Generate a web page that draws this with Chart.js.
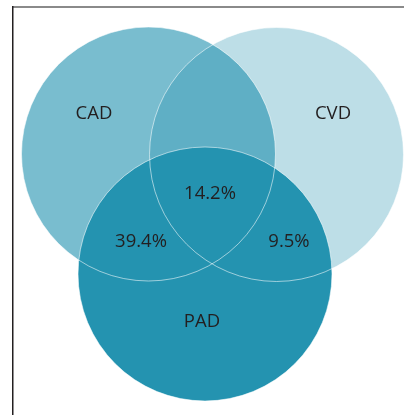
<!DOCTYPE html>
<html>
<head>
<meta charset="utf-8">
<script src="https://cdn.jsdelivr.net/npm/chart.js@4/dist/chart.umd.min.js"></script>
<style>
  html, body { margin: 0; padding: 0; background: #fff; }
  #wrap { width: 404px; height: 415px; }
</style>
</head>
<body>
<div id="wrap"><canvas id="venn" width="404" height="415"></canvas></div>
<script>
// sets of the venn, centre in plot units (1 unit = 1 px), radius in px
var setNames = ['CAD', 'CVD', 'PAD']
var setX = [135.5, 263.5, 192]
var setY = [147, 147.5, 267]
var setR = [127, 127, 127]
var setColors = ['rgba(36,147,176,0.61)', 'rgba(36,147,176,0.30)', 'rgba(36,147,176,1)']
var setLabelX = [81, 320, 189]
var setLabelY = [107, 107, 315]

// overlap percentages
var overlapLabels = ['14.2%', '39.4%', '9.5%']
var overlapX = [197, 128, 276]
var overlapY = [187, 235, 235]

var datasets = []
// fills: CAD, CVD, PAD (PAD on top)
setNames.forEach((n, i) => {
    datasets.push({
        label: n,
        data: [{x: setX[i], y: setY[i], r: setR[i]}],
        backgroundColor: setColors[i],
        borderWidth: 0,
        order: 3 - i,
        clip: false
    })
})
// thin outlines drawn over everything
datasets.push({
    label: 'outline',
    data: setNames.map((n, i) => ({x: setX[i], y: setY[i], r: setR[i]})),
    backgroundColor: 'rgba(0,0,0,0)',
    borderColor: 'rgba(255,255,255,0.55)',
    borderWidth: 1,
    order: 0,
    clip: false
})

var vennText = {
    id: 'vennText',
    afterDatasetsDraw(chart) {
        let ctx = chart.ctx, xs = chart.scales.x, ys = chart.scales.y
        ctx.save()
        ctx.font = '18.5px "Open Sans", sans-serif'
        ctx.fillStyle = '#231f20'
        ctx.textAlign = 'center'
        ctx.textBaseline = 'middle'
        setNames.forEach((n, i) => ctx.fillText(n, xs.getPixelForValue(setLabelX[i]), ys.getPixelForValue(setLabelY[i])))
        overlapLabels.forEach((t, i) => ctx.fillText(t, xs.getPixelForValue(overlapX[i]), ys.getPixelForValue(overlapY[i])))
        ctx.restore()
    }
}

new Chart(document.getElementById('venn'), {
    type: 'bubble',
    data: { datasets: datasets },
    options: {
        responsive: false,
        animation: false,
        events: [],
        layout: { autoPadding: false, padding: { left: 13, top: 7, right: 0, bottom: 0 } },
        plugins: { legend: { display: false }, tooltip: { enabled: false } },
        scales: {
            x: {
                position: 'top', min: 0, max: 391,
                grid: { display: false, drawTicks: false },
                ticks: { display: false },
                border: { display: true, color: '#8a8a8a', width: 2 }
            },
            y: {
                reverse: true, min: 0, max: 408,
                grid: { display: false, drawTicks: false },
                ticks: { display: false },
                border: { display: true, color: '#231f20', width: 1.5 }
            }
        }
    },
    plugins: [vennText]
})
</script>
</body>
</html>
